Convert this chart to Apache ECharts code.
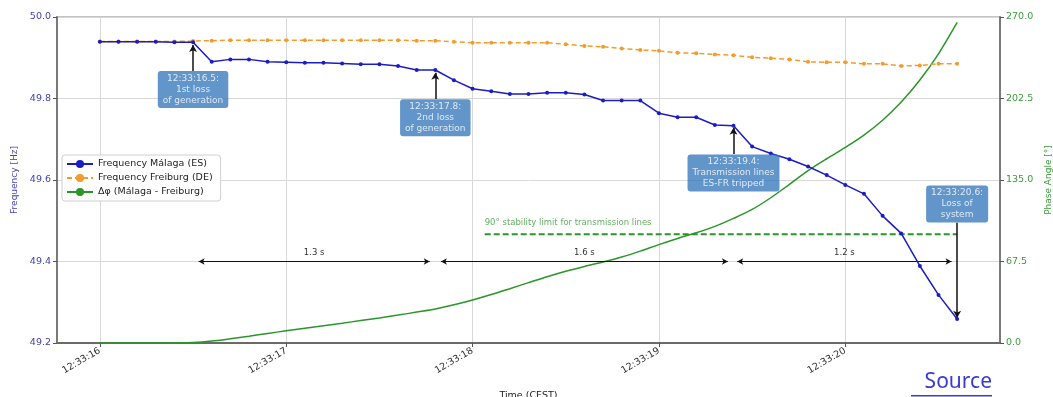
<!DOCTYPE html>
<html>
<head>
<meta charset="utf-8">
<script src="https://cdn.jsdelivr.net/npm/echarts@6/dist/echarts.min.js"></script>
<style>html,body{margin:0;padding:0;background:#fff;}#c{width:1053px;height:397px;}</style>
</head>
<body>
<div id="c"></div>
<script>
// ---- data ----
const startTime = 16.0;   // seconds after 12:33:00
const step = 0.1;
const malaga = [49.939,49.939,49.939,49.939,49.938,49.938,49.890,49.896,49.896,49.890,
  49.889,49.888,49.888,49.886,49.884,49.884,49.880,49.870,49.870,49.845,
  49.824,49.818,49.811,49.811,49.814,49.814,49.810,49.795,49.795,49.795,
  49.764,49.754,49.754,49.735,49.733,49.682,49.665,49.651,49.633,49.612,
  49.588,49.566,49.512,49.469,49.389,49.318,49.259];
const freiburg = [49.940,49.940,49.940,49.940,49.940,49.941,49.942,49.943,49.943,49.943,
  49.943,49.943,49.943,49.943,49.943,49.943,49.943,49.942,49.942,49.939,
  49.937,49.937,49.937,49.937,49.937,49.933,49.929,49.927,49.923,49.919,
  49.917,49.912,49.911,49.908,49.906,49.901,49.899,49.896,49.890,49.889,
  49.889,49.885,49.885,49.880,49.881,49.885,49.885];
const phase = [0,0,0,0,0.1,0.4,1.6,3.5,5.6,7.9,
  10.1,12.2,14.3,16.4,18.6,20.8,23.1,25.6,28.2,31.6,
  35.6,40.1,45.0,50.0,54.9,59.4,63.4,67.1,71.2,76.1,
  81.5,86.6,91.3,96.6,103.2,110.6,120.3,131.4,142.7,152.6,
  162.0,172.2,184.5,199.6,217.8,239.5,265.5];
const xTicks = [16, 17, 18, 19, 20];
const freqTicks = [49.2, 49.4, 49.6, 49.8, 50.0];
const phaseTicks = [0, 67.5, 135, 202.5, 270];

// annotations
const annTimes = [16.5, 17.8, 19.4, 20.6];
const annTexts = ['12:33:16.5:\n1st loss\nof generation', '12:33:17.8:\n2nd loss\nof generation',
  '12:33:19.4:\nTransmission lines\nES-FR tripped', '12:33:20.6:\nLoss of\nsystem'];
const annBoxFreq = [49.822, 49.753, 49.617, 49.541];
const annArrowFrom = [49.8675, 49.799, 49.664, 49.495];
const annArrowTo = [49.931, 49.863, 49.728, 49.262];

// intervals
const spanStart = [16.53, 17.83, 19.42];
const spanEnd = [17.77, 19.37, 20.57];
const spanLabels = ['1.3 s', '1.6 s', '1.2 s'];
const spanFreq = 49.4;

const limitDeg = 90;
const limitStart = 18.065, limitEnd = 20.6;
const limitLabel = '90° stability limit for transmission lines';
const limitLabelDeg = 99.4;

// ---- build ----
const t = malaga.map((_, i) => +(startTime + i * step).toFixed(1));
const BLUE = '#1c1cc4', ORANGE = '#f39c2b', GREEN = '#2a962a', BOX = '#3b7bbd';
const FONT = 'DejaVu Sans';

const chart = echarts.init(document.getElementById('c'), null, {renderer: 'canvas'});

const arrowLines = annTimes.map((x, i) => [
  {coord: [x, annArrowFrom[i]], symbol: 'none'},
  {coord: [x, annArrowTo[i]], symbol: 'arrow', symbolSize: [6, 7]}
]);
const spanLines = spanStart.map((s, i) => [
  {coord: [s, spanFreq], symbol: 'arrow', symbolSize: [5, 6]},
  {coord: [spanEnd[i], spanFreq], symbol: 'arrow', symbolSize: [5, 6], name: spanLabels[i]}
]);

const option = {
  animation: false,
  backgroundColor: '#fff',
  textStyle: {fontFamily: FONT},
  grid: {left: 57, right: 53, top: 17, bottom: 54, show: true, borderColor: '#b0b0b0', borderWidth: 1.5,
    containLabel: false, outerBoundsMode: 'none'},
  legend: {
    orient: 'vertical', left: 62, top: 155,
    data: ['Frequency Málaga (ES)', 'Frequency Freiburg (DE)', 'Δφ (Málaga - Freiburg)'],
    backgroundColor: '#fff', borderColor: '#cfcfcf', borderWidth: 1, borderRadius: 3,
    padding: [4, 8, 4, 4], itemGap: 4, itemWidth: 26, itemHeight: 10,
    textStyle: {fontSize: 9.5, color: '#222', fontFamily: FONT}
  },
  xAxis: {
    type: 'value', min: 15.77, max: 20.83,
    name: 'Time (CEST)', nameLocation: 'middle', nameGap: 48,
    nameTextStyle: {fontSize: 9.5, color: '#222'},
    axisLine: {lineStyle: {color: '#6a6a6a', width: 2}},
    axisTick: {show: true, customValues: xTicks, length: 4, lineStyle: {color: '#555'}},
    axisLabel: {customValues: xTicks, rotate: 30, fontSize: 9.5, color: '#333', margin: 7,
      formatter: v => '12:33:' + Math.round(v)},
    splitLine: {show: true, lineStyle: {color: '#d8d8d8', width: 1}}
  },
  yAxis: [{
    type: 'value', min: 49.2, max: 50.0, interval: 0.2,
    name: 'Frequency [Hz]', nameLocation: 'middle', nameGap: 38, nameRotate: 90,
    nameTextStyle: {fontSize: 9, color: '#4444bb'},
    axisLine: {show: true, lineStyle: {color: '#7a7a7a', width: 2}},
    axisTick: {show: true, length: 4, lineStyle: {color: '#555'}},
    axisLabel: {fontSize: 9.5, color: '#4040b8', margin: 6, formatter: v => v.toFixed(1)},
    splitLine: {show: true, lineStyle: {color: '#d8d8d8', width: 1}}
  }, {
    type: 'value', min: 0, max: 270, interval: 67.5, position: 'right',
    name: 'Phase Angle [°]', nameLocation: 'middle', nameGap: 43, nameRotate: 90,
    nameTextStyle: {fontSize: 9, color: '#3d9a3d'},
    axisLine: {show: true, lineStyle: {color: '#7a7a7a', width: 2}},
    axisTick: {show: true, length: 4, lineStyle: {color: '#555'}},
    axisLabel: {fontSize: 9.5, color: '#3d9a3d', margin: 6, formatter: v => v.toFixed(1)},
    splitLine: {show: false}
  }],
  series: [
    {
      name: 'Δφ (Málaga - Freiburg)', type: 'line', yAxisIndex: 1, z: 3,
      data: t.map((x, i) => [x, phase[i]]), showSymbol: false, symbol: 'none', smooth: 0.3,
      lineStyle: {color: GREEN, width: 1.5}, itemStyle: {color: GREEN}
    },
    {
      name: 'Frequency Freiburg (DE)', type: 'line', z: 4,
      data: t.map((x, i) => [x, freiburg[i]]), symbol: 'circle', symbolSize: 4,
      lineStyle: {color: ORANGE, width: 1.5, type: [5, 3]}, itemStyle: {color: ORANGE}
    },
    {
      name: 'Frequency Málaga (ES)', type: 'line', z: 5,
      data: t.map((x, i) => [x, malaga[i]]), symbol: 'circle', symbolSize: 4,
      lineStyle: {color: BLUE, width: 1.5}, itemStyle: {color: BLUE}
    },
    {
      name: 'limit', type: 'line', yAxisIndex: 1, z: 3,
      data: [[limitStart, limitDeg], [limitEnd, limitDeg]], symbol: 'none',
      lineStyle: {color: GREEN, width: 2, type: [6, 3]}
    },
    {
      name: 'limitLabel', type: 'scatter', yAxisIndex: 1, symbolSize: 0,
      data: [[limitStart, limitLabelDeg]],
      label: {show: true, position: 'right', distance: 0, formatter: limitLabel, fontSize: 8.5, color: '#3d9a3d'}
    },
    {
      name: 'arrows', type: 'line', data: [], z: 6,
      markLine: {
        silent: true, animation: false,
        lineStyle: {color: '#111', width: 1.5, type: 'solid'},
        label: {show: false},
        data: arrowLines
      }
    },
    {
      name: 'spans', type: 'line', data: [], z: 6,
      markLine: {
        silent: true, animation: false,
        lineStyle: {color: '#111', width: 1.2, type: 'solid'},
        label: {show: true, position: 'middle', formatter: p => p.name, fontSize: 8.5, color: '#333', distance: 4},
        data: spanLines
      }
    },
    {
      name: 'boxes', type: 'scatter', symbolSize: 0, z: 10,
      data: annTimes.map((x, i) => ({value: [x, annBoxFreq[i]], label: {formatter: annTexts[i]}})),
      label: {
        show: true, position: 'inside', color: '#fff', fontSize: 9, lineHeight: 11,
        backgroundColor: BOX, borderRadius: 3, padding: [2, 5], align: 'center', verticalAlign: 'middle'
      }
    }
  ],
  graphic: [
    {type: 'text', right: 61, top: 372, style: {text: 'Source', fontSize: 21, fontFamily: 'Noto Sans', fill: '#3a3ad2'}},
    {type: 'rect', right: 61, top: 395, shape: {width: 81, height: 1.5}, style: {fill: '#3a3ad2'}}
  ]
};
chart.setOption(option);
</script>
</body>
</html>
